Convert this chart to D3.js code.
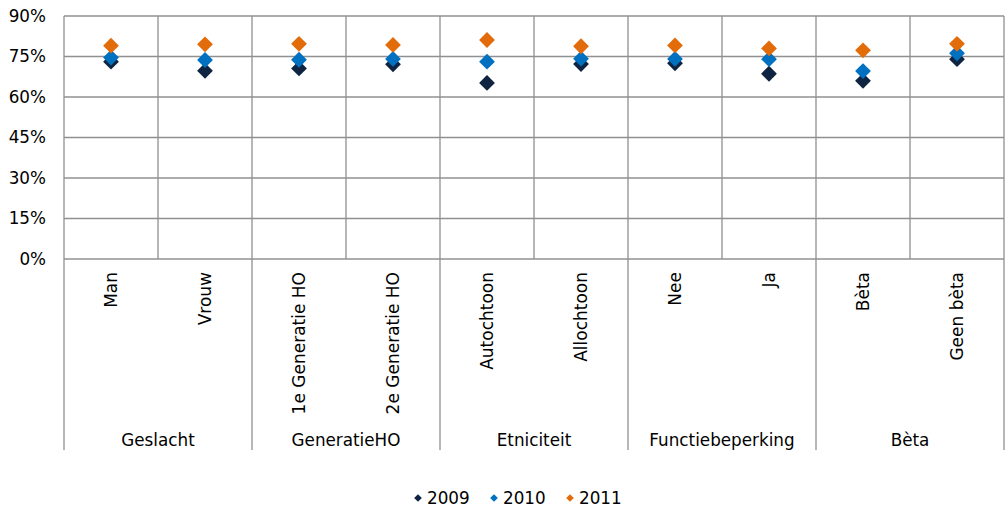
<!DOCTYPE html>
<html>
<head>
<meta charset="utf-8">
<script src="https://cdn.jsdelivr.net/npm/d3@7"></script>
<style>
  body { margin: 0; background: #fff; }
  svg text { font-family: "DejaVu Sans", Verdana, sans-serif; fill: #000; }
</style>
</head>
<body>
<svg id="chart" width="1005" height="509"></svg>
<script>
const categories = ['Man', 'Vrouw', '1e Generatie HO', '2e Generatie HO', 'Autochtoon', 'Allochtoon', 'Nee', 'Ja', 'Bèta', 'Geen bèta'];
const groups = ['Geslacht', 'GeneratieHO', 'Etniciteit', 'Functiebeperking', 'Bèta'];
const years = ['2009', '2010', '2011'];
const values2009 = [0.731, 0.697, 0.706, 0.721, 0.652, 0.722, 0.725, 0.686, 0.660, 0.740];
const values2010 = [0.746, 0.737, 0.738, 0.741, 0.731, 0.742, 0.741, 0.740, 0.696, 0.762];
const values2011 = [0.790, 0.795, 0.797, 0.793, 0.811, 0.788, 0.791, 0.780, 0.773, 0.797];
const yTicks = [0, 0.15, 0.30, 0.45, 0.60, 0.75, 0.90];
const colors = ['#0f2440', '#0070c0', '#e36c0a'];

const series = [values2009, values2010, values2011];
const svg = d3.select('#chart');
const grid = '#909090';

const plot = { left: 64, right: 1004, top: 16, bottom: 259 };
const x = d3.scaleBand().domain(categories).range([plot.left, plot.right]);
const y = d3.scaleLinear().domain([0, 0.9]).range([plot.bottom, plot.top]);

// horizontal gridlines
svg.append('g').selectAll('line').data(yTicks).join('line')
  .attr('x1', plot.left).attr('x2', plot.right)
  .attr('y1', d => y(d)).attr('y2', d => y(d))
  .attr('stroke', grid).attr('stroke-width', 1.3);

// vertical lines inside the plot
svg.append('g').selectAll('line').data(categories.slice(1)).join('line')
  .attr('x1', d => x(d)).attr('x2', d => x(d))
  .attr('y1', plot.top).attr('y2', plot.bottom)
  .attr('stroke', grid).attr('stroke-width', 1.3);

// group separators reaching down past the labels
const groupEdges = d3.range(groups.length + 1).map(i => i < groups.length ? x(categories[i * 2]) : plot.right);
svg.append('g').selectAll('line').data(groupEdges).join('line')
  .attr('x1', d => d).attr('x2', d => d)
  .attr('y1', (d, i) => (i === 0 || i === groups.length) ? plot.top : plot.bottom)
  .attr('y2', 450)
  .attr('stroke', grid).attr('stroke-width', 1.3);

// y tick labels
svg.append('g').selectAll('text').data(yTicks).join('text')
  .attr('x', 46).attr('y', d => y(d))
  .attr('dy', '0.35em')
  .attr('text-anchor', 'end')
  .style('font-size', '16.8px')
  .text(d => d3.format('.0%')(d));

// category labels, rotated
svg.append('g').selectAll('text').data(categories).join('text')
  .attr('transform', d => `translate(${x(d) + x.bandwidth() / 2},272) rotate(-90)`)
  .attr('dy', '0.35em')
  .attr('text-anchor', 'end')
  .style('font-size', '17px')
  .text(d => d);

// group labels
svg.append('g').selectAll('text').data(groups).join('text')
  .attr('x', (d, i) => (groupEdges[i] + groupEdges[i + 1]) / 2)
  .attr('y', 446)
  .attr('text-anchor', 'middle')
  .style('font-size', '16.8px')
  .text(d => d);

// markers
const diamond = d3.symbol().type(d3.symbolSquare).size(125);
series.forEach((vals, si) => {
  svg.append('g').selectAll('path').data(vals).join('path')
    .attr('d', diamond)
    .attr('transform', (d, i) => `translate(${x(categories[i]) + x.bandwidth() / 2},${y(d)}) rotate(45)`)
    .attr('fill', colors[si]);
});

// legend
const legendX = [418, 494, 570];
const legend = svg.append('g').selectAll('g').data(years).join('g')
  .attr('transform', (d, i) => `translate(${legendX[i]},498)`);
legend.append('path')
  .attr('d', d3.symbol().type(d3.symbolSquare).size(30))
  .attr('transform', 'rotate(45)')
  .attr('fill', (d, i) => colors[i]);
legend.append('text')
  .attr('x', 9).attr('dy', '0.35em')
  .style('font-size', '16.8px')
  .text(d => d);
</script>
</body>
</html>
